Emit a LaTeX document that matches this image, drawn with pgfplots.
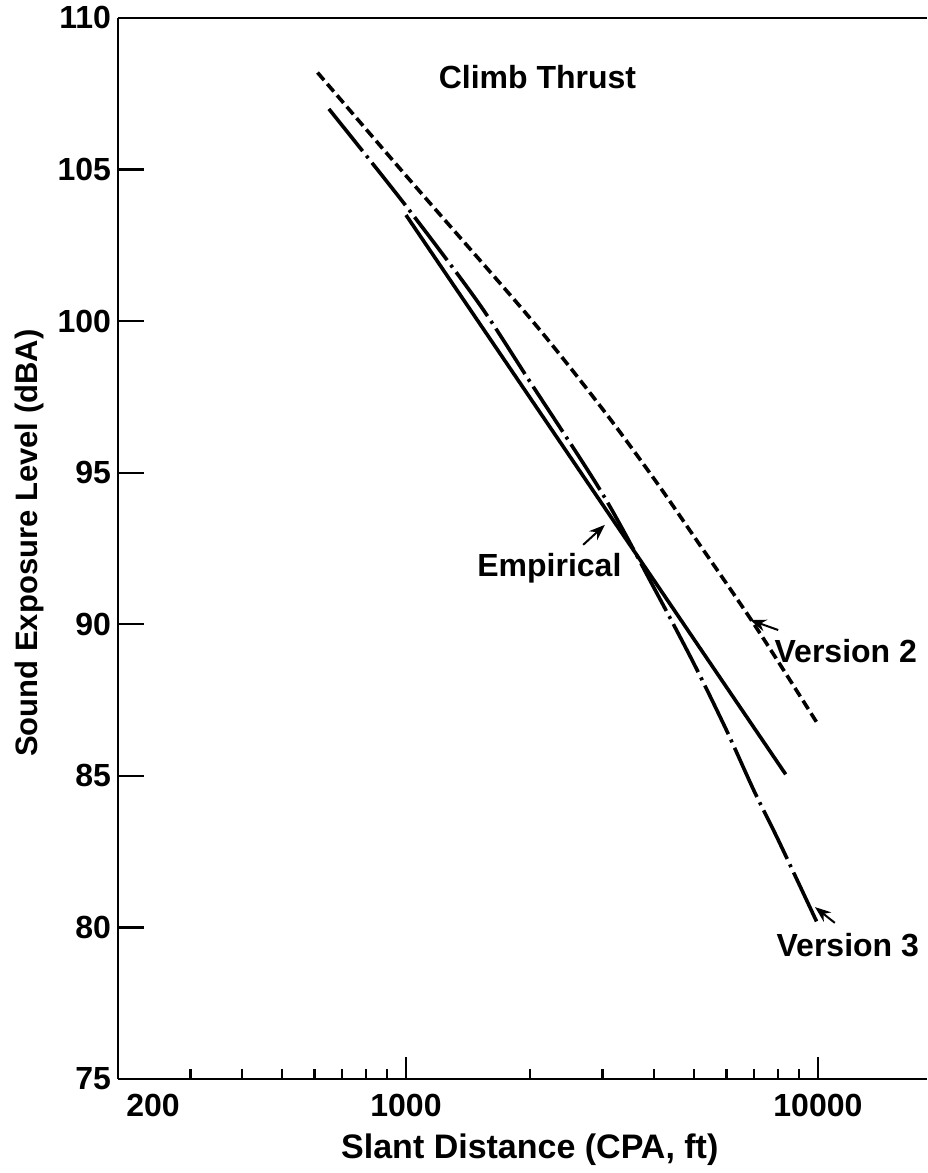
\documentclass[border=0pt]{standalone}
\usepackage{fontspec}
\setmainfont{Liberation Sans}
\usepackage{pgfplots}
\pgfplotsset{compat=1.18}
\usetikzlibrary{arrows.meta}
\newcommand{\lf}{\bfseries\fontsize{16}{19}\selectfont}
\begin{document}
\begin{tikzpicture}
\begin{axis}[
  xmode=log,
  scale only axis,
  width=404.5pt, height=530.5pt,
  xmin=200, xmax=18400,
  ymin=75, ymax=110,
  axis x line*=box,
  axis y line*=left,
  tick align=inside,
  xtick pos=left,
  ytick pos=left,
  axis line style={line width=1.4pt},
  tick style={black, line width=1.2pt},
  xtick={1000,10000},
  xticklabels={1000,10000},
  minor xtick={300,400,500,600,700,800,900,2000,3000,4000,5000,6000,7000,8000,9000},
  extra x ticks={200},
  extra x tick labels={200},
  extra x tick style={major tick length=0pt, xticklabel style={xshift=17.5pt}},
  ytick={75,80,...,110},
  xtick style={/pgfplots/major tick length=11pt, /pgfplots/minor tick length=5pt},
  ytick style={/pgfplots/major tick length=13pt},
  ticklabel style={font=\lf},
  /pgf/number format/assume math mode=true,
  xticklabel style={yshift=-4pt},
  xlabel={Slant Distance (CPA, ft)},
  xlabel style={font=\bfseries\fontsize{17}{20}\selectfont, at={(rel axis cs:0.509,-0.0745)}, anchor=base},
  ylabel={Sound Exposure Level (dBA)},
  ylabel style={font=\bfseries\fontsize{15.5}{18}\selectfont, at={(rel axis cs:-0.1001,0.505)}, anchor=base},
]
% Version 2 (dashed)
\addplot[black, line width=1.8pt, smooth, dash pattern=on 5pt off 2.5pt] coordinates {
  (610,108.2) (1000,104.8) (2000,100.1) (3000,97.1) (4000,94.8) (5000,92.9) (7000,90.0) (10000,86.7)
};
% Version 3 (dash-dot)
\addplot[black, line width=1.8pt, smooth, dash pattern=on 27pt off 3pt on 1.5pt off 3pt] coordinates {
  (650,107.0) (1000,103.8) (1500,100.6) (2000,98.0) (3000,94.3) (4000,91.2) (5000,88.7) (6000,86.5) (7000,84.5) (8000,82.9) (10000,80.1)
};
% Empirical (solid)
\addplot[black, line width=1.8pt] coordinates {
  (1000,103.5) (8350,85.05)
};
\draw[black, line width=1pt, -{Stealth[length=8pt,width=6pt]}] (axis cs:2692,92.62) -- (axis cs:3041,93.28);
\draw[black, line width=1pt, -{Stealth[length=8pt,width=6pt]}] (axis cs:8008,89.81) -- (axis cs:6850,90.14);
\draw[black, line width=1pt, -{Stealth[length=8pt,width=6pt]}] (axis cs:10990,80.15) -- (axis cs:9836,80.67);
\node[font=\lf] at (axis cs:2085,108.04) {Climb Thrust};
\node[font=\lf, anchor=base] at (axis cs:2229,91.56) {Empirical};
\node[font=\lf, anchor=base] at (axis cs:11685,88.73) {Version 2};
\node[font=\lf, anchor=base] at (axis cs:11815,79.03) {Version 3};
\coordinate (SW) at (rel axis cs:0,0);
\coordinate (NE) at (rel axis cs:1,1);
\end{axis}
\pgfresetboundingbox
\path[use as bounding box] ([shift={(-59pt,-47pt)}]SW) rectangle ([shift={(0pt,9pt)}]NE);
\end{tikzpicture}
\end{document}
